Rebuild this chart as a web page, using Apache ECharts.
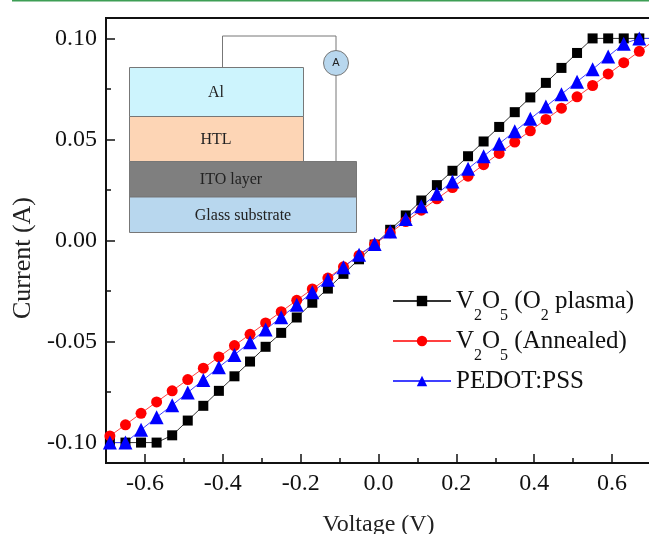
<!DOCTYPE html>
<html><head><meta charset="utf-8">
<style>html,body{margin:0;padding:0;background:#fff;overflow:hidden}#c{width:649px;height:534px}</style>
<script src="https://cdn.jsdelivr.net/npm/echarts@6/dist/echarts.min.js"></script>
</head><body><div id="c"></div>
<script>
const voltage = [-0.69,-0.65,-0.61,-0.57,-0.53,-0.49,-0.45,-0.41,-0.37,-0.33,-0.29,-0.25,-0.21,-0.17,-0.13,-0.09,-0.05,-0.01,0.03,0.07,0.11,0.15,0.19,0.23,0.27,0.31,0.35,0.39,0.43,0.47,0.51,0.55,0.59,0.63,0.67,0.71];
const plasma = [-0.1,-0.1,-0.1,-0.1,-0.0964,-0.0891,-0.0818,-0.0744,-0.0672,-0.0599,-0.0526,-0.0457,-0.0381,-0.0308,-0.0238,-0.0165,-0.0093,-0.0020,0.0053,0.0124,0.0198,0.0274,0.0345,0.0417,0.0490,0.0562,0.0635,0.0708,0.0780,0.0854,0.0928,0.1,0.1,0.1,0.1,0.1];
const annealed = [-0.0967,-0.0912,-0.0855,-0.0799,-0.0744,-0.0688,-0.0632,-0.0576,-0.052,-0.0464,-0.0408,-0.0352,-0.0296,-0.024,-0.0186,-0.013,-0.0074,-0.0018,0.0038,0.0094,0.015,0.0206,0.0262,0.0318,0.0375,0.0431,0.0487,0.0543,0.0599,0.0655,0.0711,0.0767,0.0824,0.088,0.0936,0.0992];
const pedot = [-0.1,-0.1,-0.0937,-0.0875,-0.0815,-0.0752,-0.069,-0.0627,-0.0566,-0.0503,-0.0441,-0.038,-0.0318,-0.0256,-0.0194,-0.0132,-0.0071,-0.0017,0.0045,0.0107,0.0169,0.0231,0.0292,0.0355,0.0417,0.0479,0.054,0.0602,0.0663,0.0724,0.0786,0.0847,0.0911,0.0974,0.1,0.1];
const xTicks = [-0.6,-0.4,-0.2,0,0.2,0.4,0.6];
const xMinor = [-0.5,-0.3,-0.1,0.1,0.3,0.5];
const yTicks = [-0.1,-0.05,0,0.05,0.1];
const yMinor = [-0.075,-0.025,0.025,0.075];
const seriesNames = ['plasma','annealed','pedot'];
const legendLabels = {plasma:'V{s|2}O{s|5} (O{s|2} plasma)',annealed:'V{s|2}O{s|5} (Annealed)',pedot:'PEDOT:PSS'};

const font = '"Liberation Serif","Times New Roman",serif';
const axisLine = {show:true,onZero:false,lineStyle:{color:'#111',width:2}};
const hiddenLine = {show:false,onZero:false};
const pts = a => voltage.map((v,i)=>[v,a[i]]);
const mk = (name,data,color,lineColor,symbol,size)=>({
  name,type:'line',data:pts(data),symbol,symbolSize:size,showSymbol:true,clip:true,
  itemStyle:{color},lineStyle:{color:lineColor,width:1},emphasis:{disabled:true},animation:false
});
const textEl=(x,y,t)=>({type:'text',x,y,z:20,style:{text:t,font:'16px '+font,fill:'#222',textAlign:'center',textVerticalAlign:'middle'}});
const rectEl=(x1,y1,x2,y2,fill)=>({type:'rect',z:10,shape:{x:x1,y:y1,width:x2-x1,height:y2-y1},style:{fill,stroke:'#777',lineWidth:1}});

const chart = echarts.init(document.getElementById('c'),null,{renderer:'canvas'});
chart.setOption({
  animation:false,backgroundColor:'#fff',
  grid:{left:106,top:18,width:545,height:445,outerBoundsMode:'none',show:true,borderColor:'#111',borderWidth:2,backgroundColor:'transparent'},
  legend:{left:387,top:273,orient:'vertical',itemWidth:58,itemHeight:13,itemGap:-6,selectedMode:false,
    data:seriesNames,
    formatter:n=>legendLabels[n],
    textStyle:{fontFamily:font,fontSize:25,color:'#111',lineHeight:46,
      rich:{s:{fontFamily:font,fontSize:16,color:'#111',lineHeight:16,verticalAlign:'bottom'}}}},
  xAxis:[
    {type:'value',min:-0.7,max:0.7,name:'Voltage (V)',nameLocation:'middle',nameGap:50,
     nameTextStyle:{fontFamily:font,fontSize:24,color:'#222'},
     axisLine,splitLine:{show:false},
     axisTick:{show:true,inside:true,length:9,customValues:xTicks,lineStyle:{color:'#111',width:1.5}},
     axisLabel:{customValues:xTicks,fontFamily:font,fontSize:24,color:'#111',margin:9,formatter:v=>v.toFixed(1)}},
    {type:'value',min:-0.7,max:0.7,position:'bottom',axisLine:hiddenLine,splitLine:{show:false},axisLabel:{show:false},
     axisTick:{show:true,inside:true,length:5,customValues:xMinor,lineStyle:{color:'#111',width:1.5}}}
  ],
  yAxis:[
    {type:'value',min:-0.1101,max:0.1101,name:'Current (A)',nameLocation:'middle',nameGap:68,nameRotate:90,
     nameTextStyle:{fontFamily:font,fontSize:26,color:'#222',padding:[0,35,0,0]},
     axisLine,splitLine:{show:false},
     axisTick:{show:true,inside:true,length:9,customValues:yTicks,lineStyle:{color:'#111',width:1.5}},
     axisLabel:{customValues:yTicks,fontFamily:font,fontSize:24,color:'#111',margin:9,formatter:v=>v.toFixed(2)}},
    {type:'value',min:-0.1101,max:0.1101,position:'left',axisLine:hiddenLine,splitLine:{show:false},axisLabel:{show:false},
     axisTick:{show:true,inside:true,length:5,customValues:yMinor,lineStyle:{color:'#111',width:1.5}}}
  ],
  series:[
    mk('plasma',plasma,'#000','#333','rect',10),
    mk('annealed',annealed,'#ff0000','#ff4040','circle',11),
    mk('pedot',pedot,'#0000ff','#4040ff','triangle',14)
  ],
  graphic:[
    {type:'rect',z:30,shape:{x:12,y:0,width:637,height:1.5},style:{fill:'#3d9e55'}},
    {type:'polyline',z:9,shape:{points:[[222.5,68],[222.5,36],[336,36],[336,161]]},style:{stroke:'#777',lineWidth:1,fill:null}},
    rectEl(129.5,67.5,303.5,116.5,'#cdf4fd'),
    rectEl(129.5,116.5,303.5,161.5,'#fdd5b5'),
    rectEl(129.5,161.5,356.5,197,'#7f7f7f'),
    rectEl(129.5,197,356.5,232.5,'#b8d7ee'),
    {type:'circle',z:11,shape:{cx:336,cy:63,r:12.5},style:{fill:'#b8d7ee',stroke:'#777',lineWidth:1}},
    {type:'text',x:336,y:63,z:20,style:{text:'A',font:'11px "Liberation Sans",Arial,sans-serif',fill:'#222',textAlign:'center',textVerticalAlign:'middle'}},
    textEl(216,93,'Al'),
    textEl(216,140,'HTL'),
    textEl(231,180,'ITO layer'),
    textEl(243,216,'Glass substrate')
  ]
});
</script></body></html>
